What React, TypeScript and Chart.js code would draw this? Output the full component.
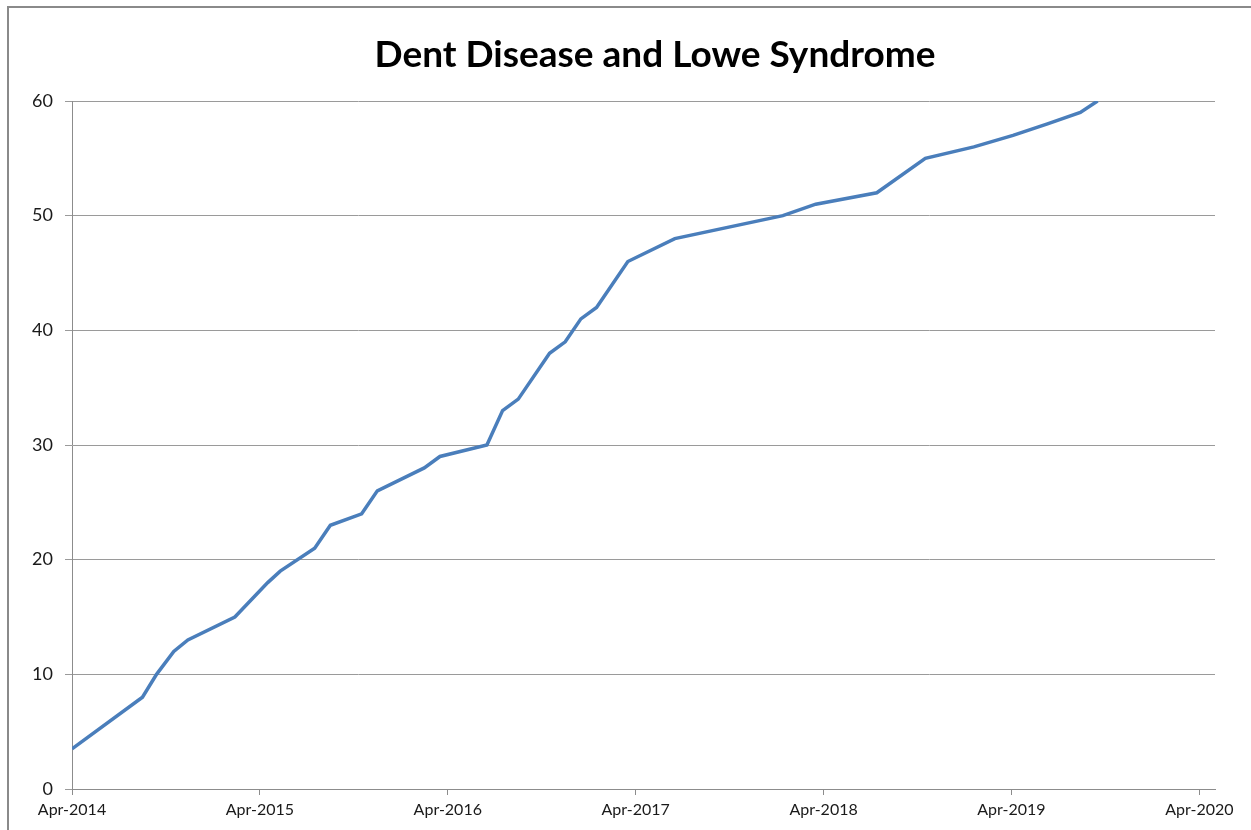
import React, { useEffect, useRef } from "react";
import { Chart, registerables } from "chart.js";

Chart.register(...registerables);

// months since Apr-2014
const monthOffsets = [0, 4.5, 5.4, 6.5, 7.4, 10.4, 12.5, 13.3, 15.5, 16.5, 18.5, 19.5, 22.5, 23.5, 26.5, 27.5, 28.5, 30.5, 31.5, 32.5, 33.5, 35.5, 38.5, 45.4, 47.5, 51.4, 54.5, 57.6, 60.1, 62.3, 64.4, 65.5];
const cumulative = [3.5, 8, 10, 12, 13, 15, 18, 19, 21, 23, 24, 26, 28, 29, 30, 33, 34, 38, 39, 41, 42, 46, 48, 50, 51, 52, 55, 56, 57, 58, 59, 60];
const tickYears = ["2014", "2015", "2016", "2017", "2018", "2019", "2020"];
const titleText = "Dent Disease and Lowe Syndrome";

const titlePlugin = {
  id: "customTitle",
  afterDraw(chart: any) {
    const c = chart.ctx;
    c.save();
    c.font = "bold 37px Lato";
    c.fillStyle = "#000";
    c.textAlign = "center";
    c.textBaseline = "middle";
    c.fillText(titleText, 655, 55);
    c.restore();
  },
};

export default function App() {
  const ref = useRef<HTMLCanvasElement | null>(null);
  useEffect(() => {
    document.body.style.overflow = "hidden";
    const ctx = ref.current!;
    const chart = new Chart(ctx, {
      type: "line",
      data: {
        datasets: [
          {
            data: monthOffsets.map((m, i) => ({ x: m, y: cumulative[i] })),
            borderColor: "#4a7ebb",
            borderWidth: 3.5,
            pointRadius: 0,
            tension: 0,
            fill: false,
          },
        ],
      },
      plugins: [titlePlugin],
      options: {
        animation: false,
        responsive: false,
        layout: { padding: { left: 0, right: 36, top: 101, bottom: 0 } },
        plugins: {
          legend: { display: false },
          tooltip: { enabled: false },
          title: { display: false },
        },
        scales: {
          x: {
            type: "linear",
            min: 0,
            max: 73,
            afterBuildTicks: (s: any) => {
              s.ticks = tickYears.map((_, i) => ({ value: i * 12 }));
            },
            afterFit: (s: any) => {
              s.height = 41;
            },
            ticks: {
              callback: (v: any) => {
                const idx = Math.round(Number(v) / 12);
                return Number(v) % 12 === 0 ? "Apr-" + tickYears[idx] : "";
              },
              font: { family: "Lato", size: 16 },
              color: "#1a1a1a",
              padding: 5,
              maxRotation: 0,
              autoSkip: false,
            },
            grid: {
              drawOnChartArea: false,
              drawTicks: true,
              tickLength: 6,
              color: "#8c8c8c",
            },
            border: { color: "#8c8c8c", width: 1 },
          },
          y: {
            min: 0,
            max: 60,
            afterFit: (s: any) => {
              s.width = 72;
            },
            ticks: {
              stepSize: 10,
              font: { family: "Lato", size: 18 },
              color: "#1a1a1a",
              padding: 12,
            },
            grid: {
              color: "#9a9a9a",
              tickLength: 7,
              lineWidth: 1,
            },
            border: { color: "#8c8c8c", width: 1 },
          },
        },
      },
    });
    return () => chart.destroy();
  }, []);

  return (
    <div style={{ position: "fixed", left: 0, top: 0, width: 1251, height: 830, overflow: "hidden", background: "#fff" }}>
      <div
        style={{
          position: "absolute",
          left: 7,
          top: 6,
          width: 1400,
          height: 1000,
          borderLeft: "2px solid #8a8a8a",
          borderTop: "2px solid #8a8a8a",
        }}
      />
      <canvas ref={ref} width={1251} height={830} style={{ position: "absolute", left: 0, top: 0 }} />
    </div>
  );
}
